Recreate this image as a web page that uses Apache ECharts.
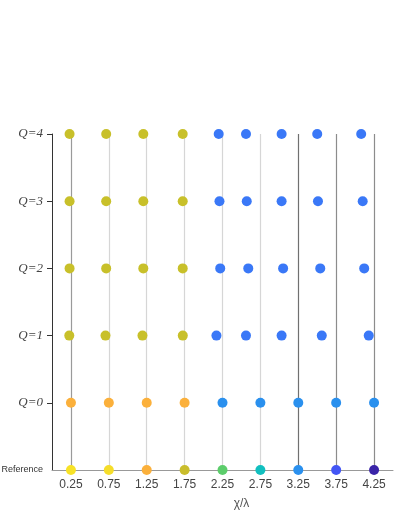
<!DOCTYPE html>
<html><head><meta charset="utf-8">
<script src="https://cdn.jsdelivr.net/npm/echarts@6/dist/echarts.min.js"></script>
<style>html,body{margin:0;padding:0;background:#fff}#c{width:395px;height:511px}</style>
</head><body><div id="c"></div>
<script>
// Column positions (χ/λ) and tick labels
const columns = [0.25, 0.75, 1.25, 1.75, 2.25, 2.75, 3.25, 3.75, 4.25];
const xTickLabels = ['0.25','0.75','1.25','1.75','2.25','2.75','3.25','3.75','4.25'];
const yLevels = [-1, 0, 1, 2, 3, 4];
const yTickLabels = ['Reference','Q=0','Q=1','Q=2','Q=3','Q=4'];

// Reference row
const refX = [0.25, 0.75, 1.25, 1.75, 2.25, 2.75, 3.25, 3.75, 4.25];
const refColors = ['#f7e227','#f5dd2a','#fbb03b','#c9bd2c','#5ccd6b','#11bfbf','#2a90ee','#4356f5','#3a24a8'];
// Q=0 row
const q0X = [0.25, 0.75, 1.25, 1.75, 2.25, 2.75, 3.25, 3.75, 4.25];
const q0Colors = ['#fbb03b','#fbb03b','#fbb03b','#fbb03b','#2a90ee','#2a90ee','#2a90ee','#2a90ee','#2a90ee'];
// Q=1..4 rows
const q1X = [0.228, 0.706, 1.194, 1.726, 2.17, 2.56, 3.03, 3.56, 4.18];
const q2X = [0.232, 0.715, 1.205, 1.725, 2.22, 2.59, 3.05, 3.54, 4.12];
const q3X = [0.232, 0.715, 1.205, 1.725, 2.21, 2.57, 3.03, 3.51, 4.10];
const q4X = [0.232, 0.715, 1.205, 1.725, 2.20, 2.56, 3.03, 3.50, 4.08];
const qColors = ['#c8c02a','#c8c02a','#c8c02a','#c8c02a','#3a78f7','#3a78f7','#3a78f7','#3a78f7','#3a78f7'];
// Vertical guide line colours per column
const lineColors = ['#9a9a9a','#d6d6d6','#d6d6d6','#d6d6d6','#d6d6d6','#d6d6d6','#707070','#8c8c8c','#8c8c8c'];

const rows = [
  {y: -1, xs: refX, colors: refColors},
  {y: 0, xs: q0X, colors: q0Colors},
  {y: 1, xs: q1X, colors: qColors},
  {y: 2, xs: q2X, colors: qColors},
  {y: 3, xs: q3X, colors: qColors},
  {y: 4, xs: q4X, colors: qColors}
];

const pts = [];
rows.forEach(r => r.xs.forEach((x, i) => pts.push({value: [x, r.y], itemStyle: {color: r.colors[i]}})));

const lines = columns.map((x, i) => [
  {coord: [x, -1], lineStyle: {color: lineColors[i], width: 1.2, type: 'solid'}},
  {coord: [x, 4]}
]);

const chart = echarts.init(document.getElementById('c'), null, {renderer: 'canvas'});
chart.setOption({
  animation: false,
  grid: {left: 52, right: 2, top: 134, bottom: 41, containLabel: false, outerBoundsMode: 'none'},
  xAxis: {
    type: 'value', min: 0, max: 4.5,
    name: 'χ/λ', nameLocation: 'middle', nameGap: 28,
    nameTextStyle: {fontFamily: 'Liberation Sans', fontSize: 12, color: '#555', padding: [0, 0, 0, 38]},
    axisLine: {show: true, onZero: false, lineStyle: {color: '#999', width: 1}},
    axisTick: {show: false},
    splitLine: {show: false},
    axisLabel: {
      customValues: columns, margin: 9,
      fontFamily: 'Liberation Sans', fontSize: 12, color: '#444',
      formatter: v => xTickLabels[columns.indexOf(v)] ?? ''
    }
  },
  yAxis: {
    type: 'value', min: -1, max: 4, interval: 1,
    axisLine: {show: true, onZero: false, lineStyle: {color: '#333', width: 1}},
    axisTick: {show: true, inside: false, length: 5, lineStyle: {color: '#333'}, customValues: yLevels.slice(1)},
    splitLine: {show: false},
    axisLabel: {
      customValues: yLevels, margin: 9,
      formatter: v => {
        const s = yTickLabels[yLevels.indexOf(v)];
        return v === -1 ? '{r|' + s + '}' : '{q|' + s + '}';
      },
      rich: {
        q: {fontFamily: 'Liberation Serif', fontStyle: 'italic', fontSize: 13, color: '#444'},
        r: {fontFamily: 'Liberation Sans', fontSize: 9, color: '#333'}
      }
    }
  },
  series: [
    {
      type: 'scatter', data: [], z: 1, silent: true,
      markLine: {silent: true, symbol: ['none','none'], label: {show: false}, animation: false, data: lines}
    },
    {
      type: 'scatter', data: pts, symbolSize: 10, z: 5, clip: false,
      itemStyle: {opacity: 1}
    }
  ]
});
</script></body></html>
